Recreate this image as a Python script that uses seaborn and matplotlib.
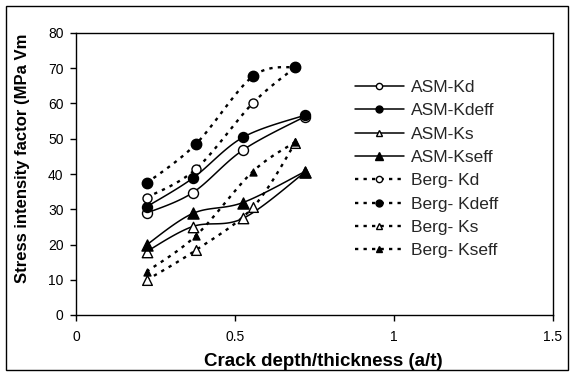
import numpy as np
import matplotlib
matplotlib.use("Agg")
import matplotlib.pyplot as plt
import seaborn as sns
from matplotlib.lines import Line2D
from matplotlib.patches import Rectangle

sns.set_theme(style="white")
plt.rcParams['font.family'] = ['Liberation Sans', 'DejaVu Sans']

# Crack depth ratios (a/t)
asm_x = [0.222, 0.367, 0.525, 0.72]
berg_x = [0.222, 0.377, 0.556, 0.69]

# Stress intensity factors
asm_kd = [28.9, 34.7, 46.8, 56.3]
asm_kdeff = [30.7, 38.8, 50.4, 56.7]
asm_ks = [18.0, 25.1, 27.4, 40.5]
asm_kseff = [19.9, 28.8, 31.9, 40.7]
berg_kd = [33.3, 41.4, 60.1, 70.3]
berg_kdeff = [37.4, 48.5, 67.7, 70.4]
berg_ks = [9.9, 18.4, 30.5, 48.9]
berg_kseff = [12.3, 22.5, 40.7, 49.1]

labels = ["ASM-Kd", "ASM-Kdeff", "ASM-Ks", "ASM-Kseff",
          "Berg- Kd", "Berg- Kdeff", "Berg- Ks", "Berg- Kseff"]

DOT = (0, (1.4, 2.2))
series = [
    # x, y, linestyle, marker, fill, plot marker size, legend marker size
    (asm_x, asm_kd, "-", "o", "white", 7.2, 4.5),
    (asm_x, asm_kdeff, "-", "o", "black", 7.2, 5.0),
    (asm_x, asm_ks, "-", "^", "white", 7.5, 5.0),
    (asm_x, asm_kseff, "-", "^", "black", 8.0, 5.5),
    (berg_x, berg_kd, DOT, "o", "white", 6.5, 4.5),
    (berg_x, berg_kdeff, DOT, "o", "black", 7.5, 5.0),
    (berg_x, berg_ks, DOT, "^", "white", 7.0, 5.0),
    (berg_x, berg_kseff, DOT, "^", "black", 5.0, 4.0),
]


def smooth(x, y, n=30):
    """Catmull-Rom style Bezier smoothing through the given points."""
    p = np.column_stack([x, y]).astype(float)
    pts = np.vstack([p[0], p, p[-1]])
    out = []
    t = np.linspace(0, 1, n)[:, None]
    for i in range(1, len(pts) - 2):
        p0, p1, p2, p3 = pts[i - 1], pts[i], pts[i + 1], pts[i + 2]
        c1 = p1 + (p2 - p0) / 6.0
        c2 = p2 - (p3 - p1) / 6.0
        seg = ((1 - t) ** 3) * p1 + 3 * ((1 - t) ** 2) * t * c1 + 3 * (1 - t) * t ** 2 * c2 + t ** 3 * p2
        out.append(seg if i == 1 else seg[1:])
    s = np.vstack(out)
    return s[:, 0], s[:, 1]


fig = plt.figure(figsize=(5.74, 3.76), dpi=100)
ax = fig.add_axes([76 / 574, 1 - 315 / 376, (553 - 76) / 574, (315 - 33) / 376])

# Curves first, then markers on top
for x, y, ls, mk, fc, ms, lms in series:
    sx, sy = smooth(x, y)
    ax.plot(sx, sy, color="black", lw=1.1 if ls == "-" else 1.7, linestyle=ls, zorder=2)
for x, y, ls, mk, fc, ms, lms in series:
    sns.scatterplot(x=x, y=y, ax=ax, marker=mk, s=ms ** 2, color=fc,
                    edgecolor="black", linewidth=1.0, zorder=3, legend=False)

ax.set_xlim(0, 1.5)
ax.set_ylim(0, 80)
ax.set_xticks([0, 0.5, 1, 1.5])
ax.set_xticklabels(["0", "0.5", "1", "1.5"])
ax.set_yticks(range(0, 81, 10))
for sp in ax.spines.values():
    sp.set_color("black")
    sp.set_linewidth(1.0)
ax.tick_params(axis="both", direction="out", length=4, width=1, color="black",
               labelsize=10, labelcolor="black", bottom=True, left=True)
ax.tick_params(axis="x", pad=7)
ax.tick_params(axis="y", pad=5)

fig.text(323 / 574, 1 - 361 / 376, "Crack depth/thickness (a/t)", ha="center", va="center",
         fontsize=13.5, fontweight="bold", color="black")
fig.text(23 / 574, 1 - 158 / 376, "Stress intensity factor (MPa Vm", ha="center", va="center",
         rotation=90, fontsize=12, fontweight="bold", color="black")

handles = [Line2D([], [], color="black", linestyle=ls, lw=1.1 if ls == "-" else 1.7,
                  marker=mk, markersize=lms, markerfacecolor=fc,
                  markeredgecolor="black", markeredgewidth=1.0)
           for x, y, ls, mk, fc, ms, lms in series]
fig.legend(handles, labels, loc="upper left", bbox_to_anchor=(355 / 574, 1 - 80 / 376),
           frameon=False, fontsize=12.5, handlelength=2.8, handletextpad=0.4,
           labelspacing=0.47, borderpad=0, borderaxespad=0)

fig.patches.append(Rectangle((6 / 574, 6 / 376), 562 / 574, 364 / 376, transform=fig.transFigure,
                             fill=False, edgecolor="black", lw=1.0))

fig.savefig("out.png", dpi=100, facecolor="white")
